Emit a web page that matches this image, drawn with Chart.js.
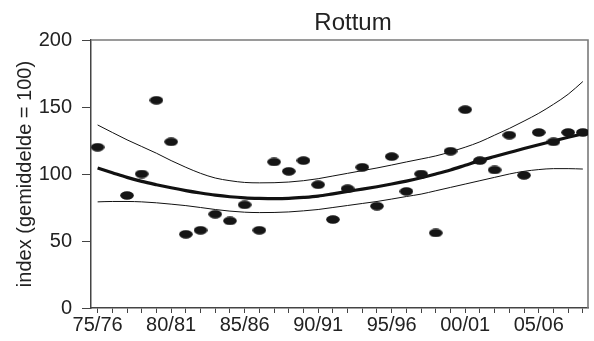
<!DOCTYPE html>
<html>
<head>
<meta charset="utf-8">
<script src="https://cdn.jsdelivr.net/npm/chart.js@4/dist/chart.umd.min.js"></script>
<style>
  html, body { margin: 0; padding: 0; background: #fff; }
  #wrap { width: 594px; height: 341px; position: relative; }
</style>
</head>
<body>
<div id="wrap"><canvas id="c"></canvas></div>
<script>
// Winter seasons on the x axis
const seasons = ['75/76','76/77','77/78','78/79','79/80','80/81','81/82','82/83','83/84','84/85',
                 '85/86','86/87','87/88','88/89','89/90','90/91','91/92','92/93','93/94','94/95',
                 '95/96','96/97','97/98','98/99','99/00','00/01','01/02','02/03','03/04','04/05',
                 '05/06','06/07','07/08','08/09'];
// Only every fifth season gets a printed label
const labelledSeasons = ['75/76','80/81','85/86','90/91','95/96','00/01','05/06'];

// Yearly index values (null = no count)
const indexValues = [120, null, 84, 100, 155, 124, 55, 58, 70, 65,
                     77, 58, 109, 102, 110, 92, 66, 89, 105, 76,
                     113, 87, 100, 56, 117, 148, 110, 103, 129, 99,
                     131, 124, 131, 131];

// Smoothed trend and its confidence band
const trend = [104.5, 101, 97.5, 94.5, 92, 89.7, 87.6, 85.8, 84.2, 83,
               82.2, 81.8, 81.6, 81.8, 82.5, 83.5, 85.2, 87, 88.7, 90.5,
               92.5, 94.7, 97.2, 100, 103, 106.5, 110, 113, 116, 119,
               121.8, 124.6, 127.4, 130];
const upperBand = [136.6, 131, 125.5, 120.5, 115.5, 110, 105, 100.5, 97, 95,
                   93.7, 93.4, 93.5, 94, 95, 96.5, 98.5, 100.5, 102.5, 104.5,
                   106.7, 109, 111.2, 113.5, 116.5, 120, 124, 129, 134, 139.5,
                   145.3, 152, 159.5, 169];
const lowerBand = [79.2, 79.5, 79.5, 79.2, 78.5, 77.5, 76.4, 75, 73.5, 72.3,
                   71.5, 71.2, 71.3, 71.7, 72.5, 73.5, 75, 76.5, 78, 79.5,
                   81.3, 83.2, 85, 87.5, 90, 92.5, 95, 97.5, 100, 102,
                   103.3, 104, 104, 103.7];

const yTicks = [0, 50, 100, 150, 200];

const toXY = arr => arr.map((v, i) => ({ x: i, y: v }));

// Oval marker used for the yearly values
const dot = document.createElement('canvas');
dot.width = 14; dot.height = 9;
{
  const g = dot.getContext('2d');
  g.fillStyle = '#151515';
  g.beginPath();
  g.ellipse(7, 4.5, 6.8, 4.2, 0, 0, Math.PI * 2);
  g.fill();
}

const FONT = 'Liberation Sans, Arial, Helvetica, sans-serif';

// Gray frame on top/right plus the centred title
const framePlugin = {
  id: 'frame',
  beforeDatasetsDraw(chart) {
    const { ctx, chartArea: a } = chart;
    ctx.save();
    ctx.strokeStyle = '#7a7a7a';
    ctx.lineWidth = 1.6;
    ctx.beginPath();
    ctx.moveTo(a.left, a.top);
    ctx.lineTo(a.right, a.top);
    ctx.lineTo(a.right, a.bottom);
    ctx.stroke();
    ctx.restore();
  },
  afterDraw(chart) {
    const { ctx } = chart;
    ctx.save();
    ctx.fillStyle = '#222';
    ctx.font = '24px ' + FONT;
    ctx.textAlign = 'center';
    ctx.textBaseline = 'alphabetic';
    ctx.fillText('Rottum', 353, 30);
    ctx.restore();
  }
};

new Chart(document.getElementById('c'), {
  type: 'scatter',
  data: {
    datasets: [
      {
        label: 'index',
        data: toXY(indexValues).filter(p => p.y !== null),
        pointStyle: dot,
        showLine: false,
        order: 0
      },
      {
        label: 'trend',
        data: toXY(trend),
        showLine: true,
        borderColor: '#111',
        borderWidth: 3.2,
        pointRadius: 0,
        cubicInterpolationMode: 'monotone',
        order: 1
      },
      {
        label: 'upper',
        data: toXY(upperBand),
        showLine: true,
        borderColor: '#111',
        borderWidth: 1,
        pointRadius: 0,
        cubicInterpolationMode: 'monotone',
        order: 2
      },
      {
        label: 'lower',
        data: toXY(lowerBand),
        showLine: true,
        borderColor: '#111',
        borderWidth: 1,
        pointRadius: 0,
        cubicInterpolationMode: 'monotone',
        order: 2
      }
    ]
  },
  options: {
    responsive: true,
    maintainAspectRatio: false,
    animation: false,
    layout: { padding: { top: 40, right: 6, left: 0, bottom: 0 } },
    plugins: {
      legend: { display: false },
      tooltip: { enabled: false },
      title: { display: false }
    },
    scales: {
      x: {
        type: 'linear',
        min: -0.45,
        max: 33.35,
        afterFit(s) { s.height = 33; },
        afterBuildTicks(s) { s.ticks = seasons.map((_, i) => ({ value: i })); },
        border: { color: '#444', width: 1.5 },
        grid: { drawOnChartArea: false, drawTicks: true, tickLength: 5, color: '#444', lineWidth: 1 },
        ticks: {
          autoSkip: false,
          maxRotation: 0,
          padding: 0,
          color: '#222',
          font: { family: FONT, size: 20 },
          callback: (v) => {
            const s = seasons[v];
            return labelledSeasons.includes(s) ? s : '';
          }
        }
      },
      y: {
        min: 0,
        max: 200,
        afterFit(s) { s.width = 91; },
        afterBuildTicks(s) { s.ticks = yTicks.map(v => ({ value: v })); },
        border: { color: '#444', width: 1.5 },
        grid: { drawOnChartArea: false, drawTicks: true, tickLength: 9, color: '#444', lineWidth: 1 },
        ticks: {
          padding: 10,
          color: '#222',
          font: { family: FONT, size: 20 }
        },
        title: {
          display: true,
          text: 'index (gemiddelde = 100)',
          color: '#222',
          font: { family: FONT, size: 20 },
          padding: { top: 13, bottom: 0 }
        }
      }
    }
  },
  plugins: [framePlugin]
});
</script>
</body>
</html>
